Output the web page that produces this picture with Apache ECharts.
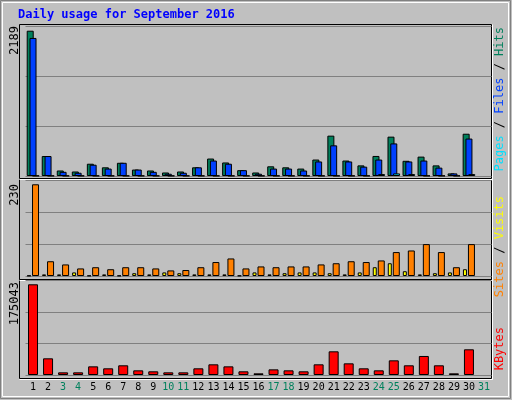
<!DOCTYPE html>
<html><head><meta charset="utf-8">
<script src="https://cdn.jsdelivr.net/npm/echarts@6/dist/echarts.min.js"></script>
<style>html,body{margin:0;padding:0;background:#c0c0c0}#c{width:512px;height:400px}</style>
</head><body><div id="c"></div>
<script>
const days=[];for(let i=1;i<=31;i++)days.push(String(i));
const weekendDays=['3','4','10','11','17','18','24','25','31'];
const hits=[2189,301,83,68,185,131,199,97,83,53,68,131,263,204,88,53,146,131,112,248,608,233,160,302,593,229,292,160,39,637,null];
const files=[2080,301,63,49,170,112,199,97,63,34,49,131,233,185,88,34,112,112,83,219,462,219,141,248,491,219,233,126,39,564,null];
const pages=[5,5,5,5,5,5,5,5,5,5,5,5,5,5,5,5,5,5,5,5,5,5,5,29,39,29,5,5,5,29,null];
const visits=[1,4,4,9,1,4,1,7,4,9,7,4,4,4,1,9,4,7,9,9,7,4,9,22,32,12,4,7,9,17,null];
const sites=[230,37,29,19,22,17,22,22,19,14,15,22,35,44,19,24,22,24,24,29,32,37,35,39,60,64,80,60,22,80,null];
const kbytes=[175043,32200,5150,5150,16700,12900,18700,9000,7100,5150,5150,12900,20600,16700,7100,3200,10900,9000,7100,20600,45700,22500,12900,9000,28300,18700,36700,18700,3200,49600,null];
const maxLabels=['2189','230','175043'];

const ch=echarts.init(document.getElementById('c'),null,{renderer:'canvas'});
const L=25.5,R=20.5;
const grids=[{left:L,right:R,top:26,height:150},{left:L,right:R,top:180.3,height:95.7},{left:L,right:R,top:280.3,height:94.7}];
const maxes=[2260,240,182763];
const split={show:true,lineStyle:{color:'#808080',width:1}};
const bs={borderColor:'#000',borderWidth:1};
const F='"DejaVu Sans Mono"';
function xa(i){return {type:'category',gridIndex:i,data:days,show:i===2,axisLine:{show:false},axisTick:{show:false},
 axisLabel:{interval:0,margin:7,fontFamily:'DejaVu Sans Mono',fontSize:10,color:'#000',
 formatter:v=>weekendDays.includes(v)?'{w|'+v+'}':v,rich:{w:{color:'#00805c',fontFamily:'DejaVu Sans Mono',fontSize:10}}}};}
function ya(i){return {type:'value',gridIndex:i,min:0,max:maxes[i],interval:maxes[i]/3,axisLabel:{show:false},axisLine:{show:false},axisTick:{show:false},splitLine:split};}
function rt(x,y,text,color,size){return {type:'text',x:x,y:y,rotation:Math.PI/2,style:{text:text,fill:color,font:(size||11)+'px '+F,textAlign:'right',textVerticalAlign:'top'}};}
const panelRects=[[19,24,472,154],[19,179,472,100],[19,279,472,99]];
const g=[
 {type:'rect',shape:{x:0.5,y:0.5,width:510,height:398},style:{fill:'none',stroke:'#808080',lineWidth:1}},
 {type:'rect',shape:{x:2.5,y:2.5,width:506,height:394},style:{fill:'none',stroke:'#ffffff',lineWidth:1}},
 {type:'text',x:18,y:9,style:{text:'Daily usage for September 2016',fill:'#0000ff',font:'bold 12px '+F}},
];
panelRects.forEach(r=>{g.push({type:'rect',z:-10,shape:{x:r[0]+0.5,y:r[1]+0.5,width:r[2],height:r[3]},style:{fill:'#c0c0c0',stroke:'#000',lineWidth:1}});
 g.push({type:'polyline',shape:{points:[[r[0]+r[2]+1.5,r[1]+0.5],[r[0]+r[2]+1.5,r[1]+r[3]+1.5],[r[0]+0.5,r[1]+r[3]+1.5]]},style:{stroke:'#fff',lineWidth:1,fill:null}});});
g.push(rt(9,26,maxLabels[0],'#000',12),rt(9,184,maxLabels[1],'#000',12),rt(9,282,maxLabels[2],'#000',12));
const f12='12px '+F;
g.push({type:'text',x:494,y:27,rotation:Math.PI/2,style:{rich:{h:{fill:'#00805c',font:f12},f:{fill:'#0040ff',font:f12},p:{fill:'#00e0ff',font:f12},s:{fill:'#000',font:f12}},text:'{p|Pages}{s| / }{f|Files}{s| / }{h|Hits}',textAlign:'right',textVerticalAlign:'top'}});
g.push({type:'text',x:494,y:196,rotation:Math.PI/2,style:{rich:{o:{fill:'#ff8000',font:f12},y:{fill:'#ffff00',font:f12},s:{fill:'#000',font:f12}},text:'{o|Sites}{s| / }{y|Visits}',textAlign:'right',textVerticalAlign:'top'}});
g.push(rt(494,327,'KBytes','#ff0000',12));
ch.setOption({animation:false,backgroundColor:'#c0c0c0',grid:grids,
 xAxis:[xa(0),xa(1),xa(2)],yAxis:[ya(0),ya(1),ya(2)],graphic:g,
 series:[
  {type:'bar',xAxisIndex:0,yAxisIndex:0,data:hits,barWidth:7,barGap:'-60%',itemStyle:Object.assign({color:'#00805c'},bs)},
  {type:'bar',xAxisIndex:0,yAxisIndex:0,data:files,barWidth:7,barGap:'-60%',itemStyle:Object.assign({color:'#0040ff'},bs)},
  {type:'bar',xAxisIndex:0,yAxisIndex:0,data:pages,barWidth:7,barGap:'-60%',itemStyle:Object.assign({color:'#00e0ff'},bs)},
  {type:'bar',xAxisIndex:1,yAxisIndex:1,data:visits,barWidth:4,barGap:'25%',itemStyle:Object.assign({color:'#ffff00'},bs)},
  {type:'bar',xAxisIndex:1,yAxisIndex:1,data:sites,barWidth:7,barGap:'25%',itemStyle:Object.assign({color:'#ff8000'},bs)},
  {type:'bar',xAxisIndex:2,yAxisIndex:2,data:kbytes,barWidth:10,itemStyle:Object.assign({color:'#ff0000'},bs)}
 ]});
</script></body></html>
